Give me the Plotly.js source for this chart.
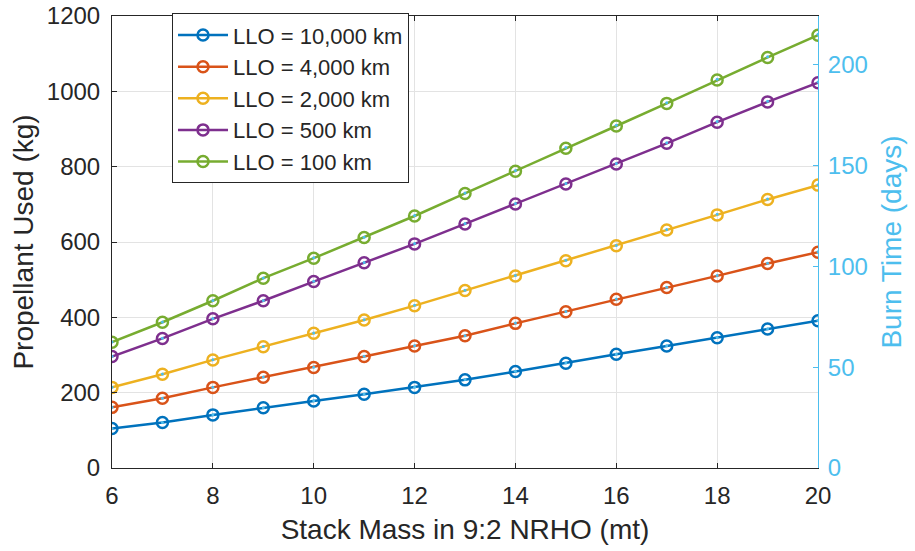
<!DOCTYPE html>
<html><head><meta charset="utf-8">
<script src="https://cdn.plot.ly/plotly-3.0.1.min.js"></script>
<style>html,body{margin:0;padding:0;background:#fff}#chart{width:915px;height:551px}</style>
</head><body><div id="chart"></div>
<script>
const stackMass = [6,7,8,9,10,11,12,13,14,15,16,17,18,19,20];
const seriesNames = ["LLO = 10,000 km","LLO = 4,000 km","LLO = 2,000 km","LLO = 500 km","LLO = 100 km"];
const prop10000 = [105,121,141,160,178,196,214,234,256,278,302,324,346,369,391];
const prop4000  = [161,185,214,241,267,296,324,351,384,415,448,479,510,543,573];
const prop2000  = [214,249,287,322,358,393,431,471,510,550,590,632,672,713,751];
const prop500   = [296,344,396,444,495,545,595,648,701,754,807,862,918,972,1023];
const prop100   = [334,387,444,504,557,612,669,729,788,849,908,968,1030,1090,1149];
const burn10000 = [19.6,22.6,26.4,29.9,33.3,36.7,40.0,43.8,47.9,52.0,56.5,60.6,64.7,69.0,73.1];
const burn4000  = [30.1,34.6,40.0,45.1,49.9,55.4,60.6,65.6,71.8,77.6,83.8,89.6,95.4,101.5,107.2];
const burn2000  = [40.0,46.6,53.7,60.2,66.9,73.5,80.6,88.1,95.4,102.9,110.3,118.2,125.7,133.3,140.4];
const burn500   = [55.4,64.3,74.1,83.0,92.6,101.9,111.3,121.2,131.1,141.0,150.9,161.2,171.7,181.8,191.3];
const burn100   = [62.5,72.4,83.0,94.2,104.2,114.4,125.1,136.3,147.4,158.8,169.8,181.0,192.6,203.8,214.9];

const colors = ["#0072BD","#D95319","#EDB120","#7E2F8E","#77AC30"];
const cyan = "#4DBEEE";
const props = [prop10000,prop4000,prop2000,prop500,prop100];
const burns = [burn10000,burn4000,burn2000,burn500,burn100];

const traces = [];
props.forEach((p,i)=>{
  traces.push({x:stackMass,y:p,name:seriesNames[i],type:"scatter",mode:"lines+markers",
    line:{color:colors[i],width:2.5},
    marker:{symbol:"circle-open",size:11,color:colors[i],line:{width:2.5,color:colors[i]}},
    xaxis:"x",yaxis:"y"});
});
burns.forEach((b,i)=>{
  traces.push({x:stackMass,y:b,name:"burn "+seriesNames[i],type:"scatter",mode:"markers",
    marker:{symbol:"circle",size:3,color:cyan},showlegend:false,xaxis:"x",yaxis:"y2"});
});

const fnt = "Liberation Sans, Arial, sans-serif";
const layout = {
  width:915,height:551,
  margin:{l:112,r:97,t:16,b:83},
  paper_bgcolor:"#fff",plot_bgcolor:"#fff",
  font:{family:fnt,size:24,color:"#262626"},
  showlegend:true,
  legend:{x:0.085,y:1.006,xanchor:"left",yanchor:"top",bgcolor:"#fff",
    bordercolor:"#262626",borderwidth:1,font:{family:fnt,size:22,color:"#262626"},
    itemwidth:50,tracegroupgap:0},
  xaxis:{range:[6,20],tickvals:[6,8,10,12,14,16,18,20],ticks:"inside",ticklen:5,
    tickcolor:"#262626",showline:true,linecolor:"#262626",linewidth:1,mirror:"ticks",
    showgrid:true,gridcolor:"#e3e3e3",zeroline:false,ticklabelstandoff:6,
    tickfont:{size:24,color:"#262626"},
    title:{text:"Stack Mass in 9:2 NRHO (mt)",font:{size:28,color:"#262626"},standoff:11}},
  yaxis:{range:[0,1200],tickvals:[0,200,400,600,800,1000,1200],ticks:"inside",ticklen:5,
    tickcolor:"#262626",showline:true,linecolor:"#262626",linewidth:1,
    showgrid:true,gridcolor:"#e3e3e3",zeroline:false,ticklabelstandoff:6,
    tickfont:{size:24,color:"#262626"},
    title:{text:"Propellant Used (kg)",font:{size:28,color:"#262626"},standoff:5}},
  yaxis2:{overlaying:"y",side:"right",range:[0,224],tickvals:[0,50,100,150,200],
    ticks:"inside",ticklen:5,tickcolor:cyan,showline:true,linecolor:cyan,linewidth:1,
    showgrid:false,zeroline:false,ticklabelstandoff:4,tickfont:{size:24,color:cyan},
    title:{text:"Burn Time (days)",font:{size:28,color:cyan},standoff:14}}
};
Plotly.newPlot("chart",traces,layout,{displayModeBar:false,staticPlot:true});
</script></body></html>
